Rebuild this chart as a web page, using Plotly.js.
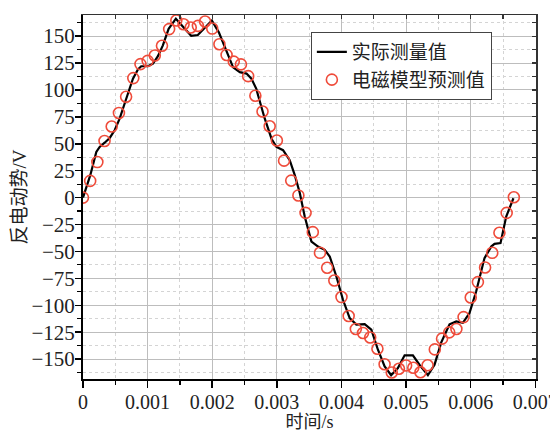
<!DOCTYPE html>
<html>
<head>
<meta charset="utf-8">
<script src="https://cdn.plot.ly/plotly-3.0.1.min.js"></script>
<style>html,body{margin:0;padding:0;background:#fff;}#chart{width:550px;height:432px;}</style>
</head>
<body>
<div id="chart"></div>
<script>
const measuredT = [0.000,0.113,0.206,0.258,0.335,0.413,0.490,0.567,0.669,0.773,0.850,0.901,1.005,1.082,1.159,1.236,1.325,1.437,1.572,1.674,1.777,1.886,1.994,2.102,2.202,2.323,2.427,2.530,2.607,2.682,2.709,2.813,2.917,2.994,3.096,3.199,3.277,3.354,3.431,3.535,3.637,3.740,3.818,3.921,4.023,4.127,4.230,4.359,4.462,4.564,4.668,4.768,4.873,4.977,5.105,5.209,5.337,5.440,5.544,5.672,5.776,5.878,5.981,6.085,6.213,6.317,6.368,6.461,6.549,6.661];
const measuredV = [0,20.8,42.4,47,51,55.4,62.5,73.3,91.8,110.4,119,122,122,124.3,131.4,141.4,156.8,166.2,157,150.3,151,158,164.5,153.5,138,121,116.5,115.2,110.4,101,95,73.3,54.7,47,44,34.7,20.8,4.5,-17.6,-40.8,-45.5,-48.5,-54.7,-73.3,-94.9,-111.9,-118,-117.5,-122.7,-141.3,-156.8,-165,-158.3,-146.5,-146.5,-155.5,-165,-155.2,-134.5,-117.7,-115,-116.3,-107.2,-87,-56.2,-45.5,-43,-42.3,-17.6,-0.6];
const modelT = [0.000,0.111,0.222,0.333,0.444,0.556,0.667,0.778,0.889,1.000,1.111,1.222,1.333,1.444,1.556,1.667,1.778,1.889,2.000,2.111,2.222,2.333,2.444,2.556,2.667,2.778,2.889,3.000,3.111,3.222,3.333,3.444,3.556,3.667,3.778,3.889,4.000,4.111,4.222,4.333,4.444,4.556,4.667,4.778,4.889,5.000,5.111,5.222,5.333,5.444,5.556,5.667,5.778,5.889,6.000,6.111,6.222,6.333,6.444,6.556,6.667];
const modelV = [0,15.5,33,52.6,66,78.6,93.7,111,124,127,132,141,156.5,164.5,161,158,159.5,163.6,157,142.5,132.5,126.3,123.7,112.8,94.6,80,66.3,53,34.3,15.8,2,-14.2,-32.1,-51.3,-65.2,-77,-92.4,-110,-122.1,-125.8,-129.9,-140.4,-154.8,-162.5,-159,-156,-158,-162.2,-155.7,-141,-131,-125.2,-122.1,-111,-92.8,-78.5,-64.9,-51.3,-32.7,-14.2,0.3];

const seriesNames = ['实际测量值', '电磁模型预测值'];
const xTickVals = [0,0.001,0.002,0.003,0.004,0.005,0.006,0.007];
const xTickText = ['0','0.001','0.002','0.003','0.004','0.005','0.006','0.007'];
const yTickVals = [-150,-125,-100,-75,-50,-25,0,25,50,75,100,125,150];

const serif = "'Times New Roman', 'DejaVu Serif', 'Noto Sans CJK SC'";
const xRange = [0, 0.00701];
const yRange = [-168.5, 169.6];

const traces = [
  {
    x: measuredT.map(v => v / 1000), y: measuredV,
    type: 'scatter', mode: 'lines', name: seriesNames[0],
    line: {color: '#000000', width: 2.2}
  },
  {
    x: modelT.map(v => v / 1000), y: modelV,
    type: 'scatter', mode: 'markers', name: seriesNames[1],
    marker: {symbol: 'circle-open', size: 11, color: '#ef4b3a', line: {width: 1.6, color: '#ef4b3a'}}
  },
  {
    x: [], y: [], xaxis: 'x2', yaxis: 'y2', type: 'scatter', mode: 'markers',
    showlegend: false, hoverinfo: 'skip'
  }
];

const layout = {
  width: 550, height: 432,
  margin: {l: 83, r: 14, t: 15, b: 53},
  paper_bgcolor: '#ffffff', plot_bgcolor: '#ffffff',
  font: {family: serif, color: '#222222', size: 18},
  showlegend: true,
  legend: {
    x: 0.503, y: 0.953, xanchor: 'left', yanchor: 'top',
    bgcolor: '#ffffff', bordercolor: '#444444', borderwidth: 1,
    font: {family: serif, size: 19, color: '#222222'}
  },
  xaxis: {
    range: xRange, tickmode: 'array', tickvals: xTickVals, ticktext: xTickText,
    ticklabeloverflow: 'allow', ticklabelstandoff: -3,
    ticks: 'outside', ticklen: 7, tickwidth: 1.5, tickcolor: '#000',
    showline: true, linecolor: '#000', linewidth: 2,
    showgrid: true, gridcolor: '#bdbdbd', gridwidth: 1,
    zeroline: false,
    tickfont: {family: serif, size: 20, color: '#222'},
    title: {text: '时间/s', font: {family: serif, size: 18, color: '#222'}, standoff: 3},
    minor: {dtick: 0.0005, tick0: 0, ticks: 'outside', ticklen: 4, tickwidth: 1.2, tickcolor: '#000',
            showgrid: true, gridcolor: '#d4d4d4', griddash: 'dot', gridwidth: 1}
  },
  yaxis: {
    range: yRange, tickmode: 'array', tickvals: yTickVals,
    ticklabelstandoff: -4,
    ticks: 'outside', ticklen: 6, tickwidth: 1.5, tickcolor: '#000',
    showline: true, linecolor: '#000', linewidth: 2,
    showgrid: true, gridcolor: '#bdbdbd', gridwidth: 1,
    zeroline: false,
    tickfont: {family: serif, size: 21, color: '#222'},
    title: {text: '反电动势/V', font: {family: serif, size: 19, color: '#222'}, standoff: 0},
    minor: {dtick: 12.5, tick0: 0, ticks: 'outside', ticklen: 4, tickwidth: 1.2, tickcolor: '#000',
            showgrid: true, gridcolor: '#d4d4d4', griddash: 'dot', gridwidth: 1}
  },
  xaxis2: {
    overlaying: 'x', side: 'top', range: xRange, dtick: 0.0005, tick0: 0,
    ticks: 'inside', ticklen: 4, tickwidth: 1.2, tickcolor: '#333',
    showticklabels: false, showgrid: false, zeroline: false,
    showline: true, linecolor: '#333', linewidth: 1.5
  },
  yaxis2: {
    overlaying: 'y', side: 'right', range: yRange, dtick: 12.5, tick0: 0,
    ticks: 'inside', ticklen: 4, tickwidth: 1.2, tickcolor: '#333',
    showticklabels: false, showgrid: false, zeroline: false,
    showline: true, linecolor: '#333', linewidth: 1.5
  }
};

Plotly.newPlot('chart', traces, layout, {displayModeBar: false, staticPlot: true});
</script>
</body>
</html>
